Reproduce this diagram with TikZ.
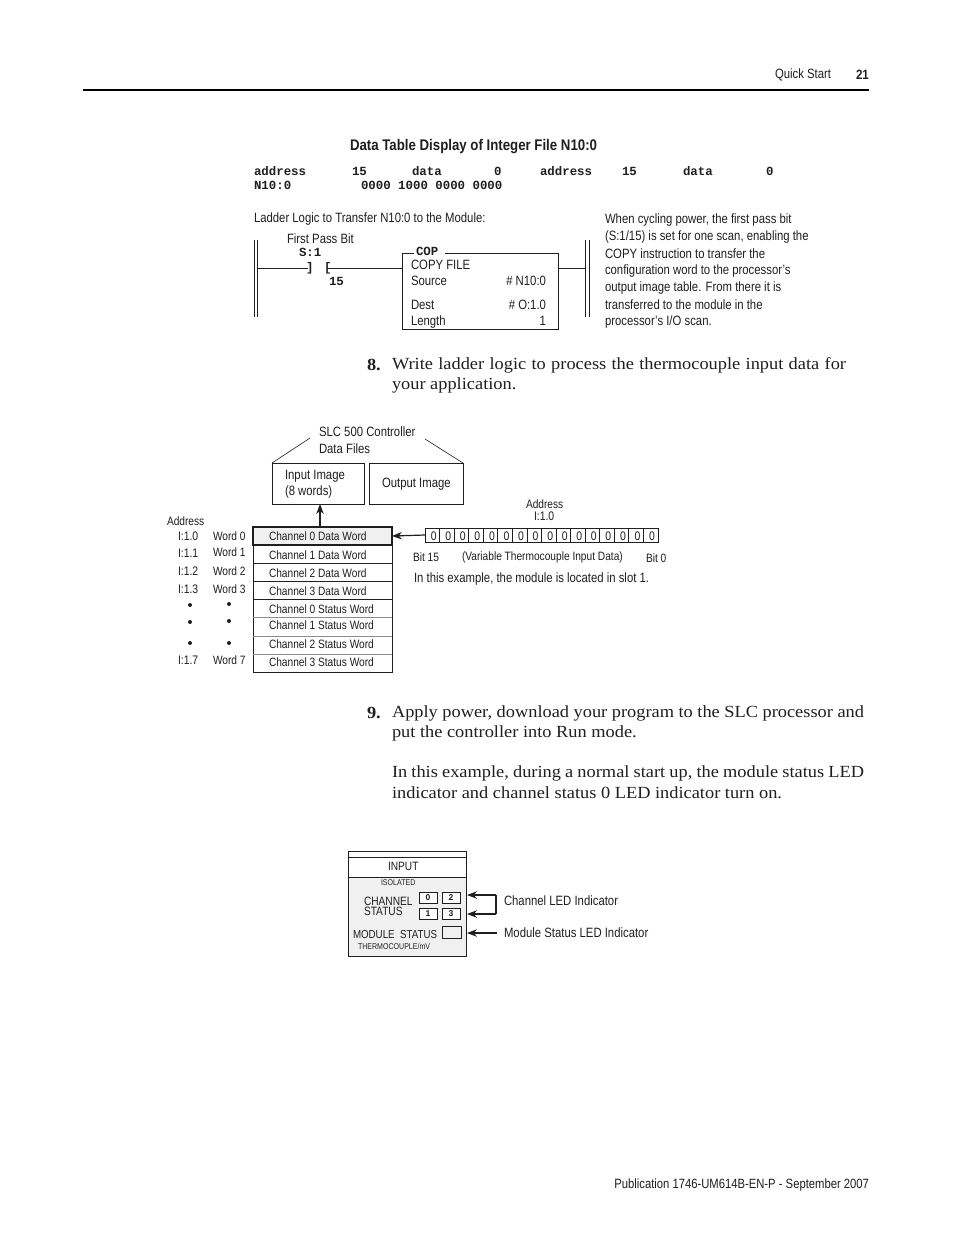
\documentclass[tikz,border=0pt]{standalone}
\usepackage{fontspec}
\setmainfont{Liberation Sans}
\newfontfamily\nar[FakeStretch=0.84]{Liberation Sans}
\newfontfamily\narb[FakeStretch=0.86]{Liberation Sans Bold}
\newfontfamily\mon{Liberation Mono Bold}
\newfontfamily\ser[FakeStretch=1.08]{Liberation Serif}
\newfontfamily\serb[FakeStretch=1.08]{Liberation Serif Bold}
\usetikzlibrary{arrows.meta}
\definecolor{ink}{gray}{0.12}
\definecolor{panel}{gray}{0.94}
\definecolor{rowline}{gray}{0.55}
\hbadness=10000 \hfuzz=20pt
\tikzset{
 x=1pt,y=-1pt,
 every node/.style={inner sep=0pt,outer sep=0pt,text=ink,anchor=west},
 lab/.style={font=\nar\fontsize{13.5}{15}\selectfont},
 addr/.style={font=\nar\fontsize{12.4}{14}\selectfont},
 small/.style={font=\nar\fontsize{12.1}{14}\selectfont},
 tiny/.style={font=\nar\fontsize{8.4}{10}\selectfont},
 monot/.style={font=\mon\fontsize{12.4}{14}\selectfont},
 bodyt/.style={font=\ser\fontsize{17}{20}\selectfont},
 num/.style={font=\serb\fontsize{17}{20}\selectfont},
 ln/.style={draw=ink,line width=0.8pt},
 arr/.style={ln,line width=1.2pt,-{Stealth[length=10pt,width=7.5pt]}},
 box/.style={ln,anchor=north west,minimum width=0pt},
}
\begin{document}
\begin{tikzpicture}
\useasboundingbox (0,0) rectangle (954,1235);
\fill[white] (0,0) rectangle (954,1235);
% header
\coordinate (hl) at (83,90); \coordinate (hr) at (869,90);
\draw[draw=black,line width=2.8pt] (hl) -- (hr);
\node[lab] (qs) at (775,75) {Quick Start};
\node[font=\narb\fontsize{13.5}{15}\selectfont] (pg) at (856,74.5) {21};
\node[font=\nar\fontsize{13.4}{15}\selectfont,anchor=east] (pub) at (869,1185) {Publication 1746-UM614B-EN-P - September 2007};
% data table
\node[font=\narb\fontsize{15.4}{17}\selectfont] (dtt) at (350,147) {Data Table Display of Integer File N10:0};
\foreach \n/\x/\t in {a1/254/address,a2/352/15,a3/412/data,a4/494/0,a5/540/address,a6/622/15,a7/683/data,a8/766/0}
  \node[monot] (\n) at (\x,171) {\t};
\node[monot] (b1) at (254,185) {N10:0};
\node[monot] (b2) at (361,185) {0000 1000 0000 0000};
% ladder
\node[lab] (llt) at (254,219) {Ladder Logic to Transfer N10:0 to the Module:};
\coordinate (r1t) at (254,240); \coordinate (r1b) at (254,317);
\coordinate (r2t) at (257,240); \coordinate (r2b) at (257,317);
\draw[ln] (r1t) -- (r1b) (r2t) -- (r2b);
\coordinate (r3t) at (585,240); \coordinate (r3b) at (585,317);
\coordinate (r4t) at (589,240); \coordinate (r4b) at (589,317);
\draw[ln] (r3t) -- (r3b) (r4t) -- (r4b);
\node[lab] (fpb) at (287,239) {First Pass Bit};
\node[monot] (s1) at (299,252) {S:1};
\node[monot] (ct1) at (306,268) {]};
\node[monot] (ct2) at (324,268) {[};
\node[monot] (n15) at (329,281) {15};
\coordinate (w1) at (257,268); \coordinate (w2) at (308,268);
\coordinate (w3) at (327,268); \coordinate (w4) at (402,268);
\coordinate (w5) at (558,268); \coordinate (w6) at (585,268);
\draw[ln] (w1) -- (w2) (w3) -- (w4) (w5) -- (w6);
\coordinate (c1) at (414,253); \coordinate (c2) at (402,253); \coordinate (c3) at (402,329);
\coordinate (c4) at (558,329); \coordinate (c5) at (558,253); \coordinate (c6) at (445,253);
\draw[ln] (c1) -- (c2) -- (c3) -- (c4) -- (c5) -- (c6);
\node[monot] (cop) at (416,251) {COP};
\node[lab] (c_a) at (411,265) {COPY FILE};
\node[lab] (c_b) at (411,281) {Source};
\node[lab,anchor=east] (c_c) at (546,281) {\# N10:0};
\node[lab] (c_d) at (411,305) {Dest};
\node[lab,anchor=east] (c_e) at (546,305) {\# O:1.0};
\node[lab] (c_f) at (411,322) {Length};
\node[lab,anchor=east] (c_g) at (546,321) {1};
\foreach \n/\y/\t in {p1/220/{When cycling power, the first pass bit},p2/237/{(S:1/15) is set for one scan, enabling the},p3/254/{COPY instruction to transfer the},p4/271/{configuration word to the processor’s},p5/288/{output image table. From there it is},p6/305/{transferred to the module in the},p7/322/{processor’s I/O scan.}}
  \node[lab] (\n) at (605,\y) {\t};
% step 8
\node[num] (n8) at (367,365) {8.};
\node[bodyt] (t8a) at (392,365) {\hbox to 454pt{Write ladder logic to process the thermocouple input data for}};
\node[bodyt] (t8b) at (392,385) {your application.};
% data files
\node[lab] (slc1) at (319,432) {SLC 500 Controller};
\node[lab] (slc2) at (319,449) {Data Files};
\node[box,minimum width=92pt,minimum height=41pt] (ii) at (272,463) {};
\node[box,minimum width=94pt,minimum height=41pt] (oi) at (369,463) {};
\node[lab] (iit1) at (285,476) {Input Image};
\node[lab] (iit2) at (285,491.5) {(8 words)};
\node[lab] (oit) at (382,484) {Output Image};
\coordinate (bl) at (310,438); \coordinate (br) at (425,439);
\draw[ln,line width=0.6pt] (ii.north west) -- (bl) (oi.north east) -- (br);
% table
\node[small] (addrl) at (167,521) {Address};
\foreach \n/\y/\t in {ad0/536/I:1.0,ad1/553/I:1.1,ad2/571/I:1.2,ad3/589/I:1.3,ad7/660/I:1.7}
  \node[addr] (\n) at (178,\y) {\t};
\foreach \n/\y/\t in {wd0/536/Word 0,wd1/552/Word 1,wd2/571/Word 2,wd3/589/Word 3,wd7/660/Word 7}
  \node[small] (\n) at (213,\y) {\t};
\foreach \n/\x/\y in {d1/190/605,d2/229/604,d3/190/622,d4/229/621,d5/190/643,d6/229/643}
  \node[circle,fill=ink,minimum size=4pt,anchor=center] (\n) at (\x,\y) {};
\node[box,fill=panel,line width=1.1pt,minimum width=139pt,minimum height=18pt] (row0) at (253,527) {};
\foreach \n/\y/\h/\c in {row1/545/18/ink,row2/563/18/ink,row3/581/18/ink,row4/599/18/ink}
  \node[box,draw=\c,minimum width=139pt,minimum height=\h pt] (\n) at (253,\y) {};
\node[box,minimum width=139pt,minimum height=55pt] (rowrest) at (253,617) {};
\coordinate (g1l) at (253,636); \coordinate (g1r) at (392,636);
\coordinate (g2l) at (253,654); \coordinate (g2r) at (392,654);
\draw[draw=rowline,line width=1pt] (g1l) -- (g1r) (g2l) -- (g2r);
\draw[draw=rowline,line width=1pt] (rowrest.north west) -- (rowrest.north east);
\foreach \n/\y/\t in {t0/536/Channel 0 Data Word,t1/555/Channel 1 Data Word,t2/573/Channel 2 Data Word,t3/591/Channel 3 Data Word,t4/609/Channel 0 Status Word,t5/625/Channel 1 Status Word,t6/644/Channel 2 Status Word,t7/662/Channel 3 Status Word}
  \node[small] (\n) at (269,\y) {\t};
\coordinate (iib) at (320,504);
\draw[arr] (320,527) -- (iib);
% bits
\node[small] (addr2) at (526,504) {Address};
\node[addr] (i10) at (534,516) {I:1.0};
\node[box,minimum width=233pt,minimum height=14pt] (bits) at (425,528) {};
\foreach \i in {0,...,15} {
  \coordinate (bt\i) at ({425+\i*14.56},528);
  \coordinate (bb\i) at ({425+\i*14.56},542);
  \draw[ln] (bt\i) -- (bb\i);
  \node[addr,anchor=east] (bd\i) at ({425+(\i+1)*14.56-3},536) {0};
}
\draw[arr] (bits.west) -- (row0.east);
\node[small] (b15) at (413,557) {Bit 15};
\node[small] (vtd) at (462,557.5) {(Variable Thermocouple Input Data)};
\node[small] (b0) at (646,558) {Bit 0};
\node[lab] (ite) at (414,578.5) {In this example, the module is located in slot 1.};
% step 9
\node[num] (n9) at (367,713) {9.};
\node[bodyt] (t9a) at (392,713) {\hbox to 472pt{Apply power, download your program to the SLC processor and}};
\node[bodyt] (t9b) at (392,733) {put the controller into Run mode.};
\node[bodyt] (t9c) at (392,773) {\hbox to 472pt{In this example, during a normal start up, the module status LED}};
\node[bodyt] (t9d) at (392,793) {indicator and channel status 0 LED indicator turn on.};
% panel
\node[box,fill=panel,draw=none,minimum width=118pt,minimum height=79pt] (pn) at (348,877) {};
\coordinate (tl) at (348,851); \coordinate (tr) at (466,851);
\coordinate (ml) at (348,857); \coordinate (mr) at (466,857);
\coordinate (bl2) at (348,956); \coordinate (br2) at (466,956);
\draw[ln] (tl) -- (tr) (ml) -- (mr) (pn.north west) -- (pn.north east) (tl) -- (bl2) -- (br2) -- (tr);
\node[small] (inp) at (388,866) {INPUT};
\node[tiny] (iso) at (381,883) {ISOLATED};
\node[small] (chs) at (364,901) {CHANNEL};
\node[small] (sts) at (364,911) {STATUS};
\node[font=\nar\fontsize{11.6}{14}\selectfont] (mst) at (353,934) {MODULE\ \ STATUS};
\node[tiny] (thm) at (358,946) {THERMOCOUPLE/mV};
\foreach \n/\x/\y/\t in {l0/419/892/0,l2/442/892/2,l1/419/908/1,l3/442/908/3}
  \node[box,fill=white,line width=0.9pt,minimum width=18pt,minimum height=11pt,anchor=north west,font=\bfseries\fontsize{8.5}{10}\selectfont,align=center] (\n) at (\x,\y) {\t};
\node[box,fill=panel,minimum width=19pt,minimum height=12pt] (lm) at (442,926) {};
\coordinate (a1) at (496,895); \coordinate (a1e) at (467,895);
\coordinate (a2) at (496,914); \coordinate (a2e) at (467,914);
\coordinate (a3) at (497,933); \coordinate (a3e) at (467,933);
\draw[arr] (a1) -- (a1e);
\draw[arr] (a2) -- (a2e);
\draw[arr] (a3) -- (a3e);
\draw[ln,line width=1.4pt] (a1) -- (a2);
\node[lab] (cli) at (504,900.5) {Channel LED Indicator};
\node[lab] (mli) at (504,932.5) {Module Status LED Indicator};
\end{tikzpicture}
\end{document}
